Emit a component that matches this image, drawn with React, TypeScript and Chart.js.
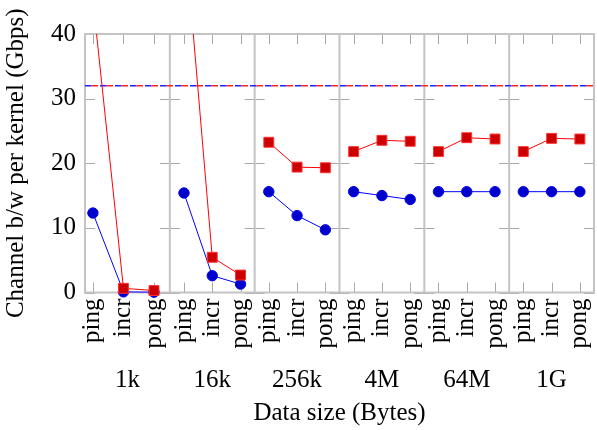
import { useEffect, useRef } from 'react';
import { Chart, registerables } from 'chart.js';

Chart.register(...registerables);

// ---- data ----
const dataSizes = ['1k', '16k', '256k', '4M', '64M', '1G'];
const operations = ['ping', 'incr', 'pong'];
// x position of each (size, operation) category on the index axis
const xPositions = [-0.22, 0.86, 1.94, 3, 4, 5, 6, 7, 8, 9, 10, 11, 12, 13, 14, 15, 16, 17];
const groupCenters = [1, 4, 7, 10, 13, 16];
const groupBounds = [-0.5, 2.5, 5.5, 8.5, 11.5, 14.5, 17.5];
const blueSeries = [12.3, 0.1, 0.05, 15.4, 2.6, 1.3, 15.6, 11.9, 9.7, 15.6, 15.0, 14.4, 15.6, 15.6, 15.6, 15.6, 15.6, 15.6];
const redSeries = [45.3, 0.65, 0.3, 57, 5.45, 2.7, 23.25, 19.4, 19.3, 21.8, 23.55, 23.4, 21.8, 23.95, 23.75, 21.8, 23.85, 23.75];
const peakBandwidth = 32;
const yTickValues = [0, 10, 20, 30, 40];

const FONT = "'Liberation Serif', 'Times New Roman', 'DejaVu Serif', serif";
const FRAME = '#c4c4c4';
const TICK = '#a8a8a8';
const TICK_LEN = 10;

const framePlugin = {
  id: 'frame',
  beforeDatasetsDraw(chart: any) {
    const { ctx, chartArea: a, scales } = chart;
    const xs = scales.x;
    const ys = scales.y;
    ctx.save();
    ctx.strokeStyle = TICK;
    ctx.lineWidth = 1;
    ctx.beginPath();
    groupBounds.forEach((b, i) => {
      const bx = xs.getPixelForValue(b);
      const left = i === 0 ? 0 : TICK_LEN;
      const right = i === groupBounds.length - 1 ? 0 : TICK_LEN;
      yTickValues.forEach((t) => {
        const py = Math.round(ys.getPixelForValue(t)) + 0.5;
        ctx.moveTo(bx - left, py);
        ctx.lineTo(bx + right, py);
      });
    });
    xPositions.forEach((v) => {
      const px = Math.round(xs.getPixelForValue(v)) + 0.5;
      ctx.moveTo(px, a.top);
      ctx.lineTo(px, a.top + TICK_LEN);
      ctx.moveTo(px, a.bottom);
      ctx.lineTo(px, a.bottom - TICK_LEN);
    });
    ctx.stroke();
    ctx.strokeStyle = FRAME;
    ctx.lineWidth = 2;
    ctx.strokeRect(a.left, a.top, a.right - a.left, a.bottom - a.top);
    ctx.beginPath();
    groupBounds.slice(1, -1).forEach((b) => {
      const bx = xs.getPixelForValue(b);
      ctx.moveTo(bx, a.top);
      ctx.lineTo(bx, a.bottom);
    });
    ctx.stroke();
    ctx.restore();
  },
};

const clipBox = { left: 14, right: 14, top: 0, bottom: 14 };

function groupData(series: number[], g: number) {
  const out: { x: number; y: number }[] = [];
  for (let k = 0; k < operations.length; k++) {
    const i = g * operations.length + k;
    out.push({ x: xPositions[i], y: series[i] });
  }
  return out;
}

export default function App() {
  const ref = useRef<HTMLCanvasElement | null>(null);

  useEffect(() => {
    if (!ref.current) return;
    const redSets = dataSizes.map((_, g) => ({
      data: groupData(redSeries, g),
      borderColor: '#ff0000',
      borderWidth: 1,
      backgroundColor: '#cc0000',
      pointStyle: 'rect',
      pointRadius: 7,
      pointBorderWidth: 1,
      pointBorderColor: '#ff3030',
      pointBackgroundColor: '#cc0000',
      clip: clipBox,
    }));
    const blueSets = dataSizes.map((_, g) => ({
      data: groupData(blueSeries, g),
      borderColor: '#0000ff',
      borderWidth: 1,
      backgroundColor: '#0000cc',
      pointStyle: 'circle',
      pointRadius: 5.2,
      pointBorderWidth: 1,
      pointBorderColor: '#0000e6',
      pointBackgroundColor: '#0000cc',
      clip: clipBox,
    }));
    const span = [
      { x: groupBounds[0], y: peakBandwidth },
      { x: groupBounds[groupBounds.length - 1], y: peakBandwidth },
    ];
    const chart = new Chart(ref.current, {
      type: 'line',
      data: {
        datasets: [
          ...redSets,
          ...blueSets,
          {
            data: span,
            borderColor: '#ff2020',
            borderWidth: 1.6,
            borderDash: [6.5, 8.5],
            borderDashOffset: -6.5,
            pointRadius: 0,
          },
          {
            data: span,
            borderColor: '#2020ff',
            borderWidth: 1.6,
            borderDash: [6.5, 8.5],
            borderDashOffset: 0,
            pointRadius: 0,
          },
        ],
      },
      options: {
        animation: false,
        responsive: false,
        devicePixelRatio: 1,
        events: [],
        layout: { padding: { left: 0, right: 1, top: 34, bottom: 0 } },
        plugins: { legend: { display: false }, tooltip: { enabled: false } },
        scales: {
          x: {
            type: 'linear',
            position: 'bottom',
            weight: 0,
            min: groupBounds[0],
            max: groupBounds[groupBounds.length - 1],
            grid: { display: false, drawTicks: false },
            border: { display: false },
            afterBuildTicks: (s: any) => {
              s.ticks = xPositions.map((v) => ({ value: v }));
            },
            afterFit: (s: any) => {
              s.height = 65;
              s.paddingLeft = 0;
              s.paddingRight = 0;
            },
            ticks: {
              autoSkip: false,
              minRotation: 90,
              maxRotation: 90,
              padding: 6,
              color: '#000',
              font: { family: FONT, size: 25 },
              callback: (_v: any, i: number) => operations[i % operations.length],
            },
          },
          x2: {
            type: 'linear',
            position: 'bottom',
            weight: 1,
            min: groupBounds[0],
            max: groupBounds[groupBounds.length - 1],
            grid: { display: false, drawTicks: false },
            border: { display: false },
            afterBuildTicks: (s: any) => {
              s.ticks = groupCenters.map((v) => ({ value: v }));
            },
            afterFit: (s: any) => {
              s.height = 72.5;
              s.paddingLeft = 0;
              s.paddingRight = 0;
            },
            ticks: {
              autoSkip: false,
              maxRotation: 0,
              minRotation: 0,
              padding: 8,
              color: '#000',
              font: { family: FONT, size: 25 },
              callback: (_v: any, i: number) => dataSizes[i],
            },
            title: {
              display: true,
              text: 'Data size (Bytes)',
              color: '#000',
              font: { family: FONT, size: 25 },
              padding: { top: 0, bottom: 2 },
            },
          },
          y: {
            type: 'linear',
            min: 0,
            max: 40,
            grid: { display: false, drawTicks: false },
            border: { display: false },
            afterBuildTicks: (s: any) => {
              s.ticks = yTickValues.map((v) => ({ value: v }));
            },
            afterFit: (s: any) => {
              s.width = 85;
              s.paddingTop = 0;
              s.paddingBottom = 0;
            },
            ticks: {
              padding: 9,
              color: '#000',
              font: { family: FONT, size: 25 },
            },
            title: {
              display: true,
              text: 'Channel b/w per kernel (Gbps)',
              color: '#000',
              font: { family: FONT, size: 25 },
              padding: { top: 1, bottom: 0 },
            },
          },
        },
      },
      plugins: [framePlugin],
    } as any);
    return () => chart.destroy();
  }, []);

  return (
    <div style={{ position: 'absolute', left: 0, top: 0, width: 597, height: 430, overflow: 'hidden', background: '#fff' }}>
      <canvas ref={ref} width={602} height={430} style={{ display: 'block' }} />
    </div>
  );
}
